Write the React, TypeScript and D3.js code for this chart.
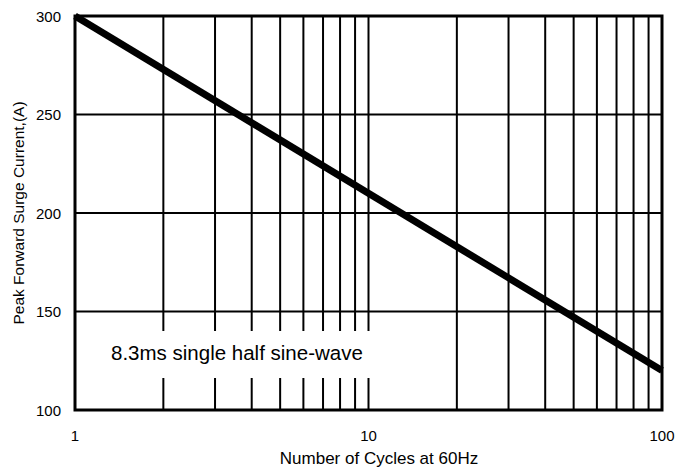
import React from "react";
import * as d3 from "d3";

const xDomain = [1, 100];
const yDomain = [100, 300];
const xGrid = [2, 3, 4, 5, 6, 7, 8, 9, 10, 20, 30, 40, 50, 60, 70, 80, 90];
const xTickLabels = [1, 10, 100];
const yTicks = [100, 150, 200, 250, 300];
const cycles = [1, 100];
const current = [300, 120];
const labelText = "8.3ms single half sine-wave";

export default function App() {
  const W = 694, H = 471;
  const L = 75, R = 662, T = 16, B = 410;
  const x = d3.scaleLog().domain(xDomain).range([L, R]);
  const y = d3.scaleLinear().domain(yDomain).range([B, T]);
  const line = d3.line<number>().x((d, i) => x(cycles[i])).y((d) => y(d));
  const font = "'Liberation Sans', Arial, sans-serif";
  return (
    <svg width={W} height={H} style={{ position: "absolute", left: 0, top: 0 }} fontFamily={font}>
      <rect x={0} y={0} width={W} height={H} fill="#fff" />
      {yTicks.slice(1, -1).map((v) => (
        <line key={"y" + v} x1={L} x2={R} y1={y(v)} y2={y(v)} stroke="#000" strokeWidth={2} />
      ))}
      {xGrid.map((v) => (
        <line key={"x" + v} x1={x(v)} x2={x(v)} y1={T} y2={B} stroke="#000" strokeWidth={2} />
      ))}
      <rect x={100} y={331} width={278} height={47} fill="#fff" />
      <text x={111} y={360} fontSize={20.5} fill="#000">{labelText}</text>
      <path d={line(current) || ""} fill="none" stroke="#000" strokeWidth={7} />
      <rect x={L} y={T} width={R - L} height={B - T} fill="none" stroke="#000" strokeWidth={3} />
      {yTicks.map((v) => (
        <text key={"yl" + v} x={61} y={y(v) + 5.5} fontSize={15} textAnchor="end" fill="#000">{v}</text>
      ))}
      {xTickLabels.map((v) => (
        <text key={"xl" + v} x={x(v)} y={441} fontSize={15} textAnchor="middle" fill="#000">{v}</text>
      ))}
      <text x={379} y={464} fontSize={17} textAnchor="middle" fill="#000">Number of Cycles at 60Hz</text>
      <text transform={`translate(24, ${(T + B) / 2}) rotate(-90)`} fontSize={15.5} textAnchor="middle" fill="#000">Peak Forward Surge Current,(A)</text>
    </svg>
  );
}
